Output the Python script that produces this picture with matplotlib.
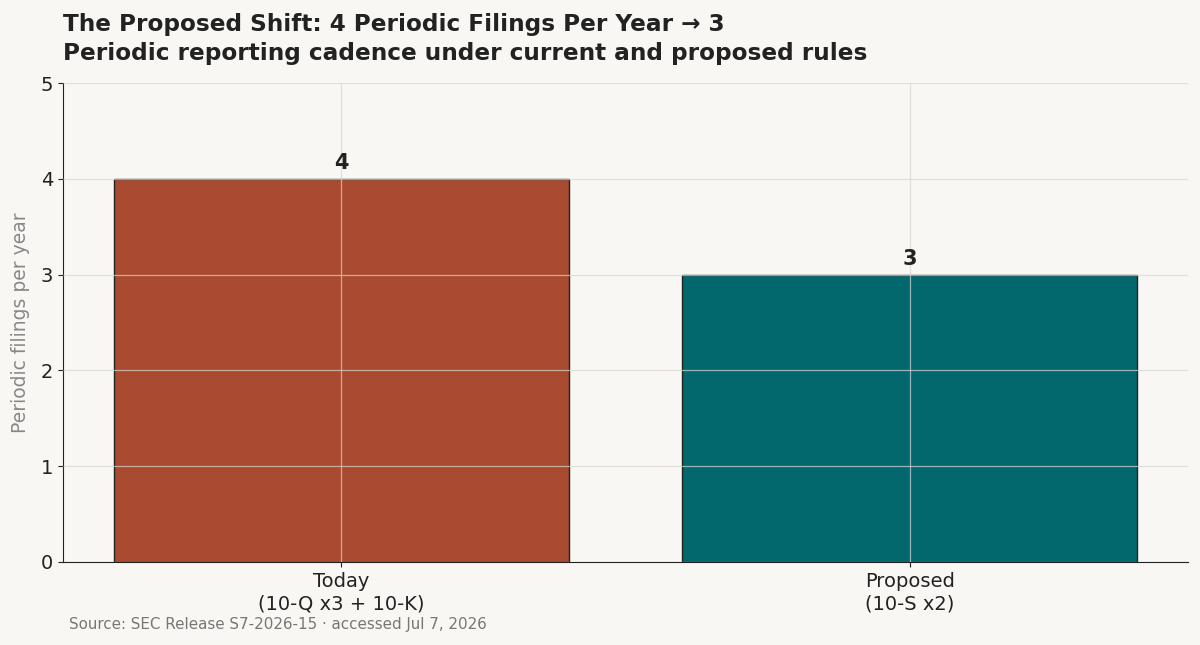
import matplotlib.pyplot as plt

plt.rcParams['font.family'] = ['DejaVu Sans']

categories = ['Today\n(10-Q x3 + 10-K)', 'Proposed\n(10-S x2)']
filings = [4, 3]
bar_colors = ['#A84B30', '#02686E']

bg = '#F9F7F3'
ink = '#222222'

fig, ax = plt.subplots(figsize=(12, 6.45), dpi=100)
fig.patch.set_facecolor(bg)
ax.set_facecolor(bg)

bars = ax.bar(range(len(categories)), filings, width=0.8, color=bar_colors,
              edgecolor=ink, linewidth=1, zorder=1)

for i, v in enumerate(filings):
    ax.text(i, v + 0.06, str(v), ha='center', va='bottom',
            fontsize=15, fontweight='bold', color=ink)

ax.set_ylim(0, 5)
ax.set_xticks(range(len(categories)))
ax.set_xticklabels(categories, fontsize=14, color=ink, linespacing=1.25)
ax.tick_params(axis='y', labelsize=14, colors=ink)
ax.tick_params(axis='both', color=ink)
ax.set_ylabel('Periodic filings per year', fontsize=13.5, color='#888888', labelpad=8)

ax.grid(True, color='#D8D6D2', linewidth=0.9, alpha=0.7, zorder=2)
ax.set_axisbelow(False)

for side in ['top', 'right']:
    ax.spines[side].set_visible(False)
for side in ['left', 'bottom']:
    ax.spines[side].set_color(ink)

ax.set_title('The Proposed Shift: 4 Periodic Filings Per Year \u2192 3\n'
             'Periodic reporting cadence under current and proposed rules',
             loc='left', fontsize=16.7, fontweight='bold', color=ink,
             linespacing=1.3, pad=17)

fig.text(0.0575, 0.025, 'Source: SEC Release S7-2026-15 \u00b7 accessed Jul 7, 2026',
         fontsize=10.9, color='#777777')

fig.subplots_adjust(left=0.0525, right=0.99, top=0.871, bottom=0.129)
fig.savefig('out.png', dpi=100, facecolor=bg)
